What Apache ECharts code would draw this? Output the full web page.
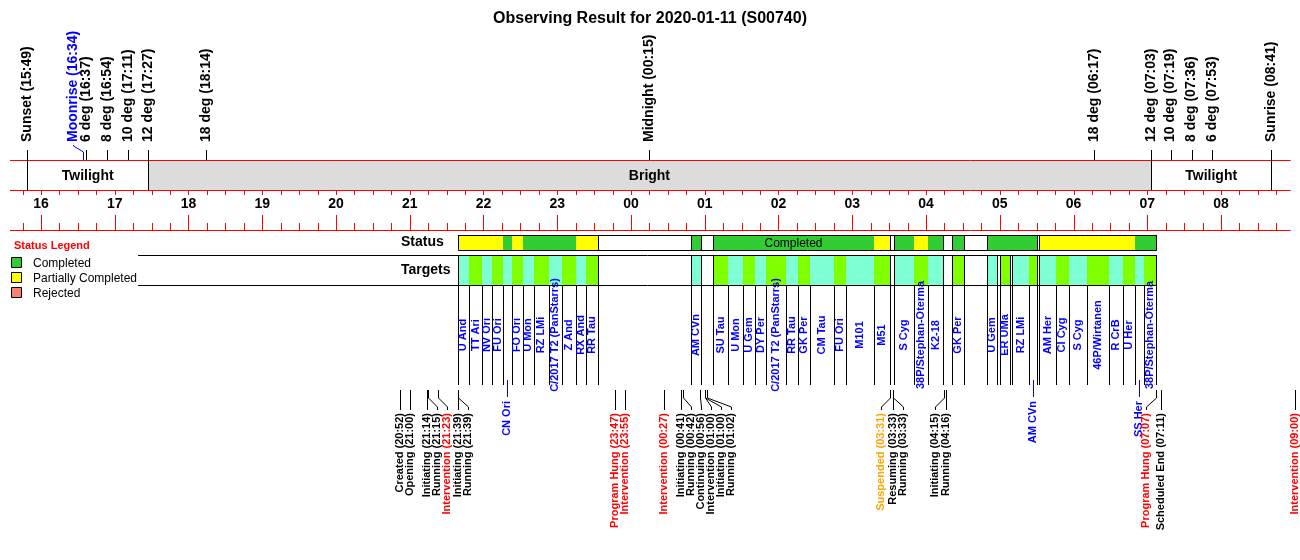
<!DOCTYPE html>
<html>
<head>
<meta charset="utf-8">
<script src="https://cdn.jsdelivr.net/npm/echarts@6.0.0/dist/echarts.min.js"></script>
<style>html,body{margin:0;padding:0;background:#fff;}#chart{width:1300px;height:560px;}</style>
</head>
<body>
<div id="chart"></div>
<script>
// ---------------- data ----------------
const chartTitle = 'Observing Result for 2020-01-11 (S00740)';
const hourLabels = ['16','17','18','19','20','21','22','23','00','01','02','03','04','05','06','07','08'];

const skyNames = ['Sunset','Moonrise','6 deg','8 deg','10 deg','12 deg','18 deg','Midnight','18 deg','12 deg','10 deg','8 deg','6 deg','Sunrise'];
const skyTimes = ['15:49','16:34','16:37','16:54','17:11','17:27','18:14','00:15','06:17','07:03','07:19','07:36','07:53','08:41'];
const skyKinds = ['sun','moon','twi','twi','twi','twi12','twi','mid','twi','twi12','twi','twi','twi','sun'];
const bandLabels = ['Twilight','Bright','Twilight'];

const targetNames = ['U And','TT Ari','NV Ori','FU Ori','CN Ori','FO Ori','U Mon','RZ LMi','C/2017 T2 (PanStarrs)','Z And','RX And','RR Tau',
  'AM CVn','SU Tau','U Mon','U Gem','DY Per','C/2017 T2 (PanStarrs)','RR Tau','GK Per','CM Tau','FU Ori','M101','M51',
  'S Cyg','38P/Stephan-Oterma','K2-18','GK Per','U Gem','ER UMa','RZ LMi','AM CVn','AM Her','CI Cyg','S Cyg','46P/Wirtanen','R CrB','U Her','SS Her','38P/Stephan-Oterma'];
const targetStarts = ['21:39','21:48','21:59','22:07','22:16','22:23','22:32','22:41','22:53','23:04','23:15','23:23',
  '00:49','01:07','01:19','01:31','01:41','01:50','02:06','02:16','02:26','02:45','02:55','03:18',
  '03:34','03:50','04:02','04:21','04:50','05:00','05:10','05:24','05:32','05:46','05:56','06:11','06:29','06:40','06:50','06:57'];
const targetEnds = ['21:48','21:59','22:07','22:16','22:23','22:32','22:41','22:53','23:04','23:15','23:23','23:33',
  '00:57','01:19','01:31','01:41','01:50','02:06','02:16','02:26','02:45','02:55','03:18','03:31',
  '03:50','04:02','04:14','04:31','04:58','05:08','05:24','05:30','05:46','05:56','06:11','06:29','06:40','06:50','06:57','07:07'];
const targetStatus = ['P','P','P','P','C','P','C','C','C','C','P','P',
  'C','C','C','C','C','C','C','C','C','C','C','P',
  'C','P','C','C','C','C','C','C','P','P','P','P','P','P','C','C'];

const statusCodes = ['C','P','R'];
const statusNames = ['Completed','Partially Completed','Rejected'];
const legendTitle = 'Status Legend';
const rowLabels = ['Status','Targets'];

const eventNames = ['Created','Opening','Initiating','Running','Intervention','Initiating','Running','Program Hung','Intervention',
  'Intervention','Initiating','Running','Continuing','Intervention','Initiating','Running','Suspended','Resuming','Running',
  'Initiating','Running','Program Hung','Scheduled End','Intervention'];
const eventTimes = ['20:52','21:00','21:14','21:15','21:23','21:39','21:39','23:47','23:55',
  '00:27','00:41','00:42','00:56','01:00','01:00','01:02','03:31','03:33','03:33',
  '04:15','04:16','07:07','07:11','09:00'];
const eventLevels = ['normal','normal','normal','normal','alert','normal','normal','alert','alert',
  'alert','normal','normal','normal','normal','normal','normal','warning','normal','normal',
  'normal','normal','alert','normal','alert'];

// ---------------- styles / layout ----------------
const FONT = '"Liberation Sans", Arial, Helvetica, sans-serif';
const C = {
  status: {C:'#32CD32', P:'#FFFF00', R:'#FA8072'},
  tgt: ['#7FFFD4', '#7FFF00'],
  gray: '#DCDCDC', red: '#FF0000', blue: '#0000FF', black: '#000000',
  level: {normal:'#000000', alert:'#FF0000', warning:'#FFA500'}
};
const X_MIN = -25.2, X_MAX = 1016.7;   // minutes after 16:00
const LABEL_GAP = 8;                    // minutes
const ROW_LINE_FROM = 79;               // minutes, left end of the target row lines
const L = { skyTextY:142, skyTickTop:150, bandTop:160, bandBot:190, tickLen:5, hourY:204,
  axis2Y:230, minorLen:7, majorLen:15, statusTop:235, statusBot:250, tgtTop:255, tgtBot:285,
  tgtLineBot:385, tgtLabelY:335, leadTop:380, leadBot:397, belowTextY:401,
  evTop:390, evBend1:398, evBend2:407, evBot:410, evTextY:413 };

function toMin(s){ const p=s.split(':').map(Number); let h=p[0]; if(h<12) h+=24; return (h-16)*60+p[1]; }
function spreadLabels(ts, gap){
  const pos=[];
  for(let i=0;i<ts.length;i++){
    let p = i>0 ? Math.max(ts[i], pos[i-1]+gap) : ts[i];
    if(p===ts[i] && i+1<ts.length && ts[i+1]-p<gap){
      const c=p-gap;
      if(i===0 || c-pos[i-1]>=gap) p=c;
    }
    pos.push(p);
  }
  return pos;
}
const measureCtx = document.createElement('canvas').getContext('2d');
function textWidth(t, font){ measureCtx.font=font; return measureCtx.measureText(t).width; }

const crisp = v => Math.round(v)+0.5;
function vline(x,y1,y2,color){ return {type:'line', shape:{x1:crisp(x),y1:y1,x2:crisp(x),y2:y2}, style:{stroke:color||C.black, lineWidth:1}}; }
function hline(x1,x2,y,color){ return {type:'line', shape:{x1:x1,y1:y+0.5,x2:x2,y2:y+0.5}, style:{stroke:color||C.black, lineWidth:1}}; }
function poly(pts,color){ return {type:'polyline', shape:{points:pts.map(p=>[crisp(p[0]),p[1]])}, style:{stroke:color, fill:null, lineWidth:1}}; }
function vtext(x,y,text,color,size,align,weight){
  return {type:'text', x:x, y:y, rotation:Math.PI/2,
    style:{text:text, fill:color, fontSize:size, fontWeight:weight||'bold', fontFamily:FONT, align:align, verticalAlign:'middle'}};
}
function htext(x,y,text,color,size,align,weight){
  return {type:'text', x:x, y:y, style:{text:text, fill:color, fontSize:size, fontWeight:weight||'bold', fontFamily:FONT, align:align, verticalAlign:'middle'}};
}

// derived
const skyMin = skyTimes.map(toMin);
const skyLab = spreadLabels(skyMin, LABEL_GAP);
const edgeIdx = skyKinds.map((k,i)=>(k==='sun'||k==='twi12')?i:-1).filter(i=>i>=0);
const bandEdges = edgeIdx.map(i=>skyMin[i]);   // sunset, 12 deg eve, 12 deg morn, sunrise

const tS = targetStarts.map(toMin), tE = targetEnds.map(toMin);
const runs = [];
tS.forEach((a,i)=>{ const last=runs[runs.length-1];
  if(last && last.status===targetStatus[i] && a-last.end<=2) last.end=tE[i];
  else runs.push({start:a,end:tE[i],status:targetStatus[i]}); });

const evMin = eventTimes.map(toMin);
const evLab = spreadLabels(evMin, LABEL_GAP);

const ticks = [];
for(let m=Math.ceil(X_MIN/15)*15; m<=X_MAX; m+=15) ticks.push(m);

// ---------------- chart ----------------
const chart = echarts.init(document.getElementById('chart'), null, {renderer:'canvas'});
const baseSeries = {type:'custom', coordinateSystem:'cartesian2d', silent:true, clip:false, animation:false};

function Xf(api){ return m => api.coord([m,0])[0]; }

const option = {
  animation:false,
  backgroundColor:'#ffffff',
  title:{text:chartTitle, left:'center', top:6, textStyle:{fontSize:16, fontWeight:'bold', color:'#000', fontFamily:FONT}},
  grid:{left:10, right:9.3, top:0, bottom:0, containLabel:false},
  xAxis:{type:'value', min:X_MIN, max:X_MAX, show:false},
  yAxis:{type:'value', min:0, max:560, inverse:true, show:false},
  graphic:[
    {type:'text', left:14, top:240, style:{text:legendTitle, fill:C.red, fontSize:11, fontWeight:'bold', fontFamily:FONT}},
  ].concat(statusCodes.map((s,i)=>({type:'rect', shape:{x:11.5, y:257.5+i*15, width:10, height:10}, style:{fill:C.status[s], stroke:'#000', lineWidth:1}})))
   .concat(statusNames.map((n,i)=>({type:'text', x:33, y:264+i*15, style:{text:n, fill:'#000', fontSize:12, fontFamily:FONT, verticalAlign:'middle'}})))
   .concat(rowLabels.map((n,i)=>({type:'text', x:401, y:i===0?242:270, style:{text:n, fill:'#000', fontSize:14, fontWeight:'bold', fontFamily:FONT, verticalAlign:'middle'}}))),
  series:[
    // band & axis lines
    Object.assign({}, baseSeries, {z:1, data:[[0,0]], renderItem:function(p,api){
      const X=Xf(api); const ch=[];
      ch.push({type:'rect', shape:{x:Math.round(X(bandEdges[1])), y:L.bandTop, width:Math.round(X(bandEdges[2]))-Math.round(X(bandEdges[1])), height:L.bandBot-L.bandTop}, style:{fill:C.gray}});
      const x0=X(X_MIN), x1=X(X_MAX);
      [L.bandTop, L.bandBot, L.axis2Y].forEach(y=>ch.push(hline(x0,x1,y,C.red)));
      for(let k=0;k<3;k++) ch.push(htext((X(bandEdges[k])+X(bandEdges[k+1]))/2, (L.bandTop+L.bandBot)/2+1, bandLabels[k], '#000', 14, 'center'));
      return {type:'group', children:ch};
    }}),
    // ticks and hour labels
    Object.assign({}, baseSeries, {z:2, data:ticks.map(m=>[m,0]), renderItem:function(p,api){
      const X=Xf(api); const m=ticks[p.dataIndex]; const x=X(m); const hour=(m%60===0);
      const ch=[vline(x,L.bandBot,L.bandBot+L.tickLen,C.red), vline(x,L.axis2Y-(hour?L.majorLen:L.minorLen),L.axis2Y,C.red)];
      if(hour && hourLabels[m/60]!==undefined) ch.push(htext(x, L.hourY, hourLabels[m/60], '#000', 14, 'center'));
      return {type:'group', children:ch};
    }}),
    // sky events
    Object.assign({}, baseSeries, {z:3, data:skyMin.map(m=>[m,0]), renderItem:function(p,api){
      const X=Xf(api); const i=p.dataIndex; const t=X(skyMin[i]), l=X(skyLab[i]);
      const col = skyKinds[i]==='moon'?C.blue:'#000'; const ch=[];
      if(edgeIdx.indexOf(i)>=0) ch.push(vline(t,L.skyTickTop,L.bandBot,'#000'));
      else if(Math.abs(t-l)<0.5) ch.push(vline(t,L.skyTickTop,L.bandTop,col));
      else ch.push(poly([[t,L.bandTop],[t,152],[l,146],[l,145]],col));
      ch.push(vtext(l, L.skyTextY, skyNames[i]+' ('+skyTimes[i]+')', col, 14, 'left'));
      return {type:'group', children:ch};
    }}),
    // status runs
    Object.assign({}, baseSeries, {z:3, data:runs.map(r=>[r.start,0]), renderItem:function(p,api){
      const X=Xf(api); const k=p.dataIndex; const r=runs[k];
      const a=Math.round(X(r.start)), b=Math.round(X(r.end)); const ch=[];
      ch.push({type:'rect', shape:{x:a,y:L.statusTop,width:b-a,height:L.statusBot-L.statusTop}, style:{fill:C.status[r.status]}});
      if(k===0 || runs[k-1].end<r.start) ch.push(vline(a,L.statusTop,L.statusBot));
      if(k===runs.length-1 || r.end<runs[k+1].start) ch.push(vline(b,L.statusTop,L.statusBot));
      const name=statusNames[statusCodes.indexOf(r.status)];
      if(textWidth(name,'12px '+FONT)+10 < b-a) ch.push(htext((a+b)/2, (L.statusTop+L.statusBot)/2+1, name, '#000', 12, 'center', 'normal'));
      return {type:'group', children:ch};
    }}),
    // targets
    Object.assign({}, baseSeries, {z:3, data:tS.map(m=>[m,0]), renderItem:function(p,api){
      const X=Xf(api); const i=p.dataIndex; const a=Math.round(X(tS[i])), b=Math.round(X(tE[i])); const ch=[];
      ch.push({type:'rect', shape:{x:a,y:L.tgtTop,width:b-a,height:L.tgtBot-L.tgtTop}, style:{fill:C.tgt[i%2]}});
      const openL = i===0 || tE[i-1]<tS[i], openR = i===tS.length-1 || tE[i]<tS[i+1];
      ch.push(vline(a, openL?L.tgtTop:L.tgtBot, L.tgtLineBot));
      ch.push(vline(b, openR?L.tgtTop:L.tgtBot, L.tgtLineBot));
      const xc=(X(tS[i])+X(tE[i]))/2;
      if(tE[i]-tS[i] >= LABEL_GAP) ch.push(vtext(xc, L.tgtLabelY, targetNames[i], C.blue, 11, 'center'));
      else { ch.push(vline(xc, L.leadTop, L.leadBot, C.blue)); ch.push(vtext(xc, L.belowTextY, targetNames[i], C.blue, 11, 'right')); }
      return {type:'group', children:ch};
    }}),
    // frames
    Object.assign({}, baseSeries, {z:4, data:[[0,0]], renderItem:function(p,api){
      const X=Xf(api); const a=Math.round(X(tS[0])), b=Math.round(X(tE[tE.length-1]));
      return {type:'group', children:[
        {type:'rect', shape:{x:a+0.5,y:L.statusTop+0.5,width:b-a,height:L.statusBot-L.statusTop}, style:{fill:null, stroke:'#000', lineWidth:1}},
        hline(X(ROW_LINE_FROM), b+1, L.tgtTop), hline(X(ROW_LINE_FROM), b+1, L.tgtBot)
      ]};
    }}),
    // log events
    Object.assign({}, baseSeries, {z:3, data:evMin.map(m=>[m,0]), renderItem:function(p,api){
      const X=Xf(api); const i=p.dataIndex; const t=X(evMin[i]), l=X(evLab[i]); const ch=[];
      if(Math.abs(t-l)<0.5) ch.push(vline(t,L.evTop,L.evBot));
      else ch.push(poly([[t,L.evTop],[t,L.evBend1],[l,L.evBend2],[l,L.evBot]],'#000'));
      ch.push(vtext(l, L.evTextY, eventNames[i]+' ('+eventTimes[i]+')', C.level[eventLevels[i]], 11, 'right'));
      return {type:'group', children:ch};
    }})
  ]
};
chart.setOption(option);
</script>
</body>
</html>
